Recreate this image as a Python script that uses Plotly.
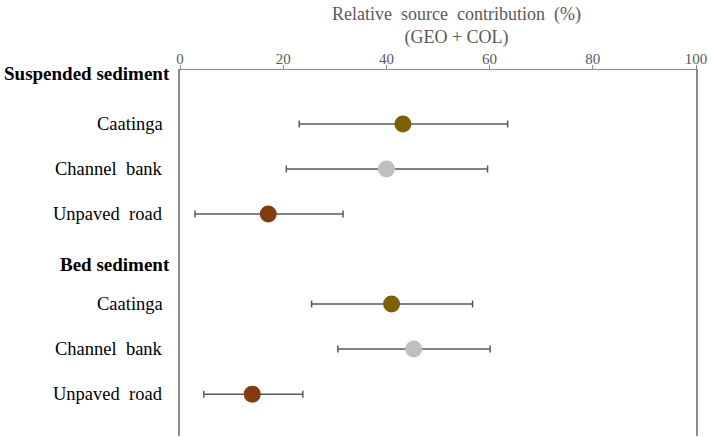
import plotly.graph_objects as go

# Relative source contribution (%) estimated with GEO + COL tracers
sources = ["Caatinga", "Channel bank", "Unpaved road"]
source_colors = ["#7F6000", "#BFBFBF", "#843C0C"]

groups = ["Suspended sediment", "Bed sediment"]

suspended_mean = [43.2, 40.0, 17.1]
suspended_low = [23.1, 20.6, 2.9]
suspended_high = [63.5, 59.6, 31.6]

bed_mean = [41.0, 45.3, 14.0]
bed_low = [25.5, 30.6, 4.6]
bed_high = [56.7, 60.1, 23.8]

x_ticks = [0, 20, 40, 60, 80, 100]

# vertical layout of the rows (axis runs downward)
group_rows = [[1.2, 2.2, 3.2], [5.2, 6.2, 7.2]]
header_rows = [0.07, 4.33]

means = [suspended_mean, bed_mean]
lows = [suspended_low, bed_low]
highs = [suspended_high, bed_high]

FONT = "Liberation Serif, Times New Roman, serif"

fig = go.Figure()

for g in range(len(groups)):
    m, lo, hi = means[g], lows[g], highs[g]
    fig.add_trace(go.Scatter(
        x=m,
        y=group_rows[g],
        mode="markers",
        marker=dict(size=17, color=source_colors, line=dict(width=0)),
        error_x=dict(
            type="data",
            symmetric=False,
            array=[h - v for h, v in zip(hi, m)],
            arrayminus=[v - l for v, l in zip(m, lo)],
            color="#595959",
            thickness=1.5,
            width=3.5,
        ),
        showlegend=False,
        hoverinfo="x",
    ))

annotations = []
for g, name in enumerate(groups):
    annotations.append(dict(
        text="<b>" + name + "</b>", x=0, y=header_rows[g],
        xref="paper", yref="y", xanchor="right", yanchor="middle",
        xshift=-8, showarrow=False,
        font=dict(family=FONT, size=19, color="#000000"),
    ))
    for r, src in enumerate(sources):
        annotations.append(dict(
            text=src.replace(" ", "\u00a0\u00a0"), x=0, y=group_rows[g][r],
            xref="paper", yref="y", xanchor="right", yanchor="middle",
            xshift=-15, showarrow=False,
            font=dict(family=FONT, size=18.5, color="#000000"),
        ))

# axis title, two lines, centred a little right of the plot centre
annotations.append(dict(
    text="Relative\u00a0\u00a0source\u00a0\u00a0contribution\u00a0\u00a0(%)<br>(GEO\u00a0+\u00a0COL)",
    xref="paper", x=(456 - 180) / 516, y=1, yref="paper",
    xanchor="center", yanchor="bottom", yshift=20, showarrow=False,
    font=dict(family=FONT, size=18, color="#595959"),
))

fig.update_layout(
    width=712, height=437,
    margin=dict(l=180, r=16, t=70, b=1),
    paper_bgcolor="white", plot_bgcolor="white",
    font=dict(family=FONT, color="#595959"),
    annotations=annotations,
    xaxis=dict(
        side="top", range=[0, 100], tickvals=x_ticks,
        showgrid=False, zeroline=False,
        showline=True, linecolor="#8C8C8C", linewidth=1.3,
        ticks="outside", ticklen=4, tickcolor="#8C8C8C",
        ticklabelstandoff=-5,
        tickfont=dict(family=FONT, size=15, color="#595959"),
    ),
    yaxis=dict(
        range=[8.13, 0], showticklabels=False, ticks="",
        showgrid=False, zeroline=False,
        showline=True, mirror=True, linecolor="#8C8C8C", linewidth=1.6,
    ),
)

fig.write_html("out.html")
